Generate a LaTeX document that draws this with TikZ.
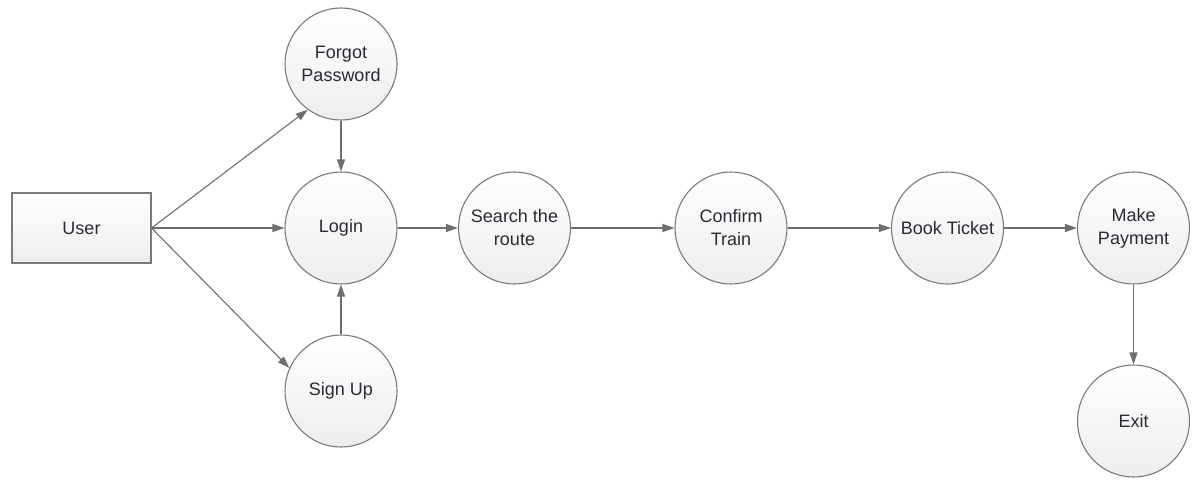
\documentclass[tikz,border=0pt]{standalone}
\usepackage{fontspec}
\setmainfont{Liberation Sans}
\usetikzlibrary{arrows.meta}
\definecolor{edgegray}{HTML}{7A7A7A}
\definecolor{linegray}{HTML}{6E6E6E}
\definecolor{txt}{HTML}{2A2A34}
\begin{document}
\begin{tikzpicture}[x=1pt,y=-1pt,
  every node/.style={text=txt,font=\fontsize{18}{23}\selectfont,align=center,inner sep=0pt},
  proc/.style={circle,draw=edgegray,line width=1.1pt,minimum size=112pt,top color=white,bottom color=black!7},
  ent/.style={rectangle,draw=edgegray,line width=1.1pt,minimum width=139pt,minimum height=70pt,top color=white,bottom color=black!7},
  flow/.style={draw=linegray,line width=1.1pt,-{Triangle[length=12pt,width=8pt]}}]
\useasboundingbox (0,0) rectangle (1201,480);
\node[ent]  (user)   at (81.5,228) {User};
\node[proc] (forgot) at (341,64)   {Forgot\\Password};
\node[proc] (login)  at (341,228)  {Login};
\node[proc] (signup) at (341,391)  {Sign Up};
\node[proc] (search) at (514.5,228){Search the\\route};
\node[proc] (confirm) at (731,228) {Confirm\\Train};
\node[proc] (book)   at (947.5,228){Book Ticket};
\node[proc] (pay)    at (1133.5,228){Make\\Payment};
\node[proc] (exit)   at (1133.5,421){Exit};
\draw[flow] (user.east) -- (forgot.234);
\draw[flow] (user.east) -- (login.west);
\draw[flow] (user.east) -- (signup.156);
\draw[flow] (forgot.south) -- (login.north);
\draw[flow] (signup.north) -- (login.south);
\draw[flow] (login.east) -- (search.west);
\draw[flow] (search.east) -- (confirm.west);
\draw[flow] (confirm.east) -- (book.west);
\draw[flow] (book.east) -- (pay.west);
\draw[flow] (pay.south) -- (exit.north);
\end{tikzpicture}
\end{document}
